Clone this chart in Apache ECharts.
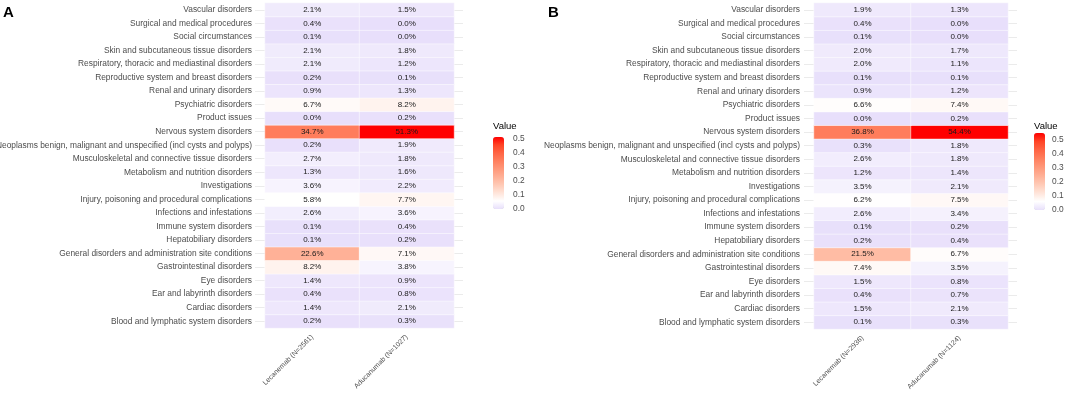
<!DOCTYPE html>
<html>
<head>
<meta charset="utf-8">
<script src="https://cdn.jsdelivr.net/npm/echarts@6/dist/echarts.min.js"></script>
<style>
  html, body { margin: 0; padding: 0; background: #fff; }
  #chart { width: 1065px; height: 393px; }
</style>
</head>
<body>
<div id="chart"></div>
<script>
// categories, bottom row first (ggplot puts the first level at the bottom)
var socs = [
    'Blood and lymphatic system disorders',
    'Cardiac disorders',
    'Ear and labyrinth disorders',
    'Eye disorders',
    'Gastrointestinal disorders',
    'General disorders and administration site conditions',
    'Hepatobiliary disorders',
    'Immune system disorders',
    'Infections and infestations',
    'Injury, poisoning and procedural complications',
    'Investigations',
    'Metabolism and nutrition disorders',
    'Musculoskeletal and connective tissue disorders',
    'Neoplasms benign, malignant and unspecified (incl cysts and polyps)',
    'Nervous system disorders',
    'Product issues',
    'Psychiatric disorders',
    'Renal and urinary disorders',
    'Reproductive system and breast disorders',
    'Respiratory, thoracic and mediastinal disorders',
    'Skin and subcutaneous tissue disorders',
    'Social circumstances',
    'Surgical and medical procedures',
    'Vascular disorders'
];

var drugsA = ['Lecanemab (N=2561)', 'Aducanumab (N=1027)'];
var drugsB = ['Lecanemab (N=2936)', 'Aducanumab (N=1124)'];

// percentages, same order as socs
var lecA = [0.2, 1.4, 0.4, 1.4, 8.2, 22.6, 0.1, 0.1, 2.6, 5.8, 3.6, 1.3, 2.7, 0.2, 34.7, 0.0, 6.7, 0.9, 0.2, 2.1, 2.1, 0.1, 0.4, 2.1];
var aduA = [0.3, 2.1, 0.8, 0.9, 3.8, 7.1, 0.2, 0.4, 3.6, 7.7, 2.2, 1.6, 1.8, 1.9, 51.3, 0.2, 8.2, 1.3, 0.1, 1.2, 1.8, 0.0, 0.0, 1.5];
var lecB = [0.1, 1.5, 0.4, 1.5, 7.4, 21.5, 0.2, 0.1, 2.6, 6.2, 3.5, 1.2, 2.6, 0.3, 36.8, 0.0, 6.6, 0.9, 0.1, 2.0, 2.0, 0.1, 0.4, 1.9];
var aduB = [0.3, 2.1, 0.7, 0.8, 3.5, 6.7, 0.4, 0.2, 3.4, 7.5, 2.1, 1.4, 1.8, 1.8, 54.4, 0.2, 7.4, 1.2, 0.1, 1.1, 1.7, 0.0, 0.0, 1.3];

var legendTicks = [0.0, 0.1, 0.2, 0.3, 0.4, 0.5];

// lavender -> white -> red (roughly Lab-like blend like ggplot)
var fillColors = ['#e8dffb', '#ffffff', '#ffe4d9', '#ffcab6', '#ffb096', '#ff987a',
                  '#ff7f5e', '#ff6444', '#ff4526', '#ff0000'];

function cells(a, b) {
    var out = [];
    for (var i = 0; i < socs.length; i++) {
        out.push([0, i, a[i] / 100]);
        out.push([1, i, b[i] / 100]);
    }
    return out;
}

var maxA = Math.max.apply(null, lecA.concat(aduA)) / 100;
var maxB = Math.max.apply(null, lecB.concat(aduB)) / 100;

var labelGrey = '#4d4d4d';
var gridGrey = '#ebebeb';
var font = 'Liberation Sans';

function catY(gridIndex, isRight, margin) {
    return {
        type: 'category',
        gridIndex: gridIndex,
        data: socs,
        position: isRight ? 'right' : 'left',
        axisLine: {show: false},
        axisTick: {show: true, alignWithLabel: true, length: isRight ? 9 : 10,
            lineStyle: {color: gridGrey, width: 1}},
        axisLabel: {show: !isRight, fontSize: 8.4, color: labelGrey, margin: margin,
            fontFamily: font},
        splitLine: {show: false}
    };
}

function catX(gridIndex, names) {
    return {
        type: 'category',
        gridIndex: gridIndex,
        data: names,
        axisLine: {show: false},
        axisTick: {show: false},
        axisLabel: {rotate: 45, fontSize: 7, color: labelGrey, margin: 8,
            fontFamily: font, hideOverlap: false},
        splitLine: {show: false}
    };
}

function legendAxis(gridIndex, max, margin) {
    return {
        type: 'value',
        gridIndex: gridIndex,
        min: 0,
        max: max,
        interval: 0.1,
        position: 'right',
        axisLine: {show: false},
        axisTick: {show: false},
        splitLine: {show: false},
        axisLabel: {fontSize: 8.4, color: labelGrey, margin: margin, showMaxLabel: false,
            fontFamily: font,
            formatter: function(v) {
                return legendTicks.indexOf(Math.round(v * 10) / 10) >= 0 ? v.toFixed(1) : '';
            }}
    };
}

function heat(xi, yi, data) {
    return {
        type: 'heatmap',
        xAxisIndex: xi,
        yAxisIndex: yi,
        data: data,
        itemStyle: {borderColor: '#ffffff', borderWidth: 0.5},
        label: {
            show: true,
            fontSize: 8,
            color: '#1a1a1a',
            fontFamily: font,
            formatter: function(p) { return (p.value[2] * 100).toFixed(1) + '%'; }
        },
        emphasis: {disabled: true}
    };
}

function titleText(t, left, top, size, weight) {
    return {text: t, left: left, top: top, padding: 0,
        textStyle: {fontSize: size, fontWeight: weight, color: '#000', fontFamily: font}};
}

var chart = echarts.init(document.getElementById('chart'));
var option = {
    animation: false,
    backgroundColor: '#ffffff',
    title: [
        titleText('A', 3, 5, 15, 'bold'),
        titleText('B', 548, 5, 15, 'bold'),
        titleText('Value', 493, 121, 9.5, 'normal'),
        titleText('Value', 1034, 121, 9.5, 'normal')
    ],
    grid: [
        {left: 265, top: 3, width: 189, height: 325, outerBoundsMode: 'none', containLabel: false},
        {left: 814, top: 3, width: 194, height: 326, outerBoundsMode: 'none', containLabel: false},
        {left: 493, top: 137, width: 11, height: 72, outerBoundsMode: 'none', containLabel: false},
        {left: 1034, top: 133, width: 11, height: 77, outerBoundsMode: 'none', containLabel: false}
    ],
    xAxis: [
        catX(0, drugsA),
        catX(1, drugsB),
        {type: 'value', gridIndex: 2, show: false},
        {type: 'value', gridIndex: 3, show: false}
    ],
    yAxis: [
        catY(0, false, 13),
        catY(0, true, 0),
        catY(1, false, 14),
        catY(1, true, 0),
        legendAxis(2, maxA, 9),
        legendAxis(3, maxB, 7)
    ],
    visualMap: [
        {type: 'continuous', seriesIndex: 0, dimension: 2, min: 0, max: maxA,
            calculable: false, orient: 'vertical', left: 493, top: 137,
            itemWidth: 11, itemHeight: 72, padding: 0, text: null, showLabel: false,
            inRange: {color: fillColors}},
        {type: 'continuous', seriesIndex: 1, dimension: 2, min: 0, max: maxB,
            calculable: false, orient: 'vertical', left: 1034, top: 133,
            itemWidth: 11, itemHeight: 77, padding: 0, text: null, showLabel: false,
            inRange: {color: fillColors}}
    ],
    series: [
        heat(0, 0, cells(lecA, aduA)),
        heat(1, 2, cells(lecB, aduB))
    ]
};
chart.setOption(option);
</script>
</body>
</html>
